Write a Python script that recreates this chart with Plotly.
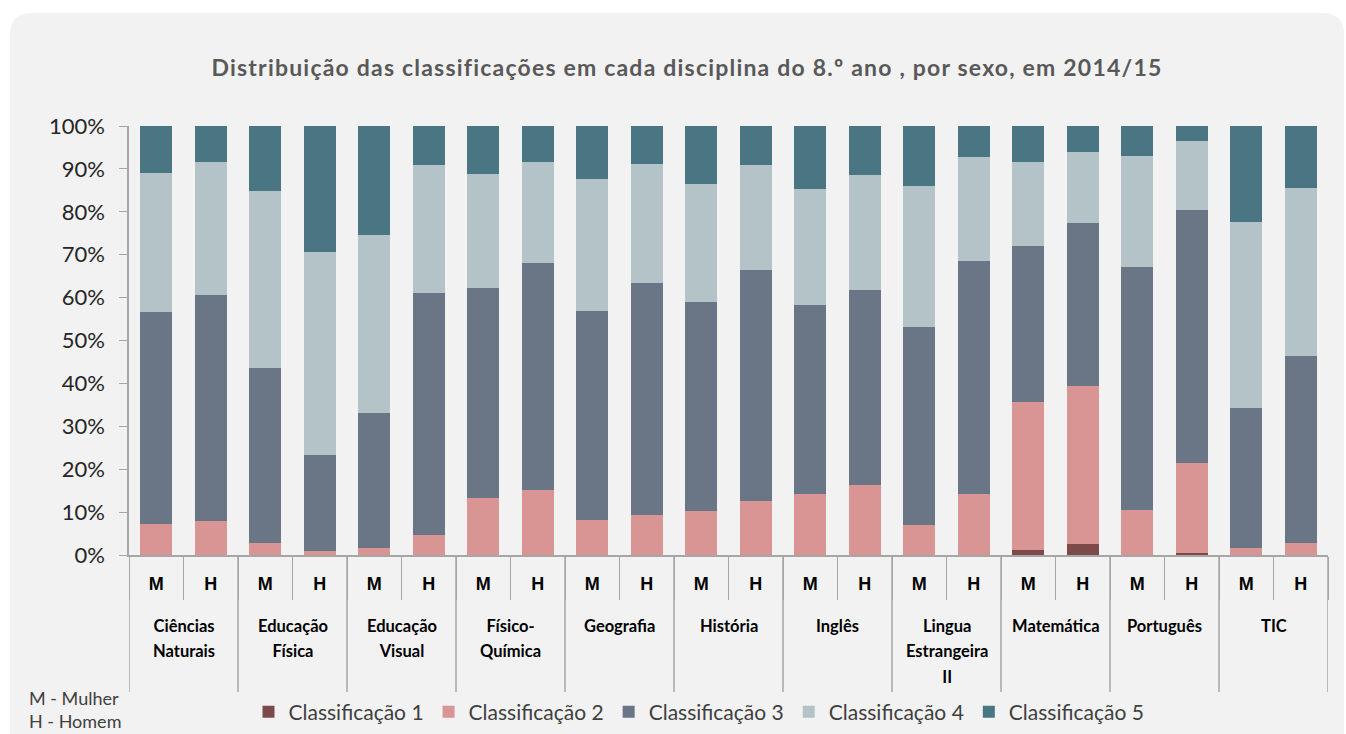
import plotly.graph_objects as go

disciplinas = ["Ciências<br>Naturais", "Educação<br>Física", "Educação<br>Visual", "Físico-<br>Química",
               "Geografia", "História", "Inglês", "Lingua<br>Estrangeira<br>II", "Matemática",
               "Português", "TIC"]
sexos = ["M", "H"]

# percentages per bar, order: (disciplina, M), (disciplina, H)
class1 = [0, 0, 0, 0, 0, 0, 0, 0, 0, 0, 0, 0, 0, 0, 0, 0, 1.2, 2.5, 0, 0.5, 0, 0]
class2 = [7.2, 7.9, 2.8, 1.0, 1.6, 4.7, 13.3, 15.1, 8.2, 9.3, 10.3, 12.7, 14.3, 16.3, 7.0, 14.3, 34.5, 36.9, 10.6, 20.9, 1.6, 2.8]
class3 = [49.5, 52.7, 40.8, 22.2, 31.5, 56.4, 49.0, 52.9, 48.7, 54.2, 48.7, 53.8, 43.9, 45.5, 46.1, 54.3, 36.3, 38.0, 56.6, 59.0, 32.7, 43.7]
class4 = [32.4, 30.9, 41.3, 47.5, 41.4, 29.8, 26.5, 23.5, 30.7, 27.6, 27.4, 24.4, 27.0, 26.7, 33.0, 24.1, 19.5, 16.5, 25.8, 16.1, 43.4, 39.0]
class5 = [10.9, 8.5, 15.1, 29.3, 25.5, 9.1, 11.2, 8.5, 12.4, 8.9, 13.6, 9.1, 14.8, 11.5, 13.9, 7.3, 8.5, 6.1, 7.0, 3.5, 22.3, 14.5]

series_names = ["Classificação 1", "Classificação 2", "Classificação 3", "Classificação 4", "Classificação 5"]
series_values = [class1, class2, class3, class4, class5]
colors = ["#7d4a4b", "#d99594", "#6a7586", "#b3c3c8", "#4a7582"]

# unique category keys, one per bar
keys = [f"{d}|{s}" for d in disciplinas for s in sexos]
key_labels = [s for d in disciplinas for s in sexos]

fig = go.Figure()
for name, vals, col in zip(series_names, series_values, colors):
    fig.add_trace(go.Bar(
        x=keys,
        y=[v / 100 for v in vals],
        name=name,
        marker=dict(color=col, line=dict(width=0)),
    ))

# plot area in pixels
L, R, T, B = 129, 1328, 126, 555
W, H = 1346, 734
pw, ph = R - L, B - T

def px(x):
    return (x - L) / pw

def py(y):
    return (B - y) / ph

# rounded background panel
x0, x1, y0, y1 = 10, 1344, 13, 760
r = 22
rx, ry = r / pw, r / ph
path = (f"M {px(x0)+rx},{py(y0)} L {px(x1)-rx},{py(y0)} Q {px(x1)},{py(y0)} {px(x1)},{py(y0)-ry} "
        f"L {px(x1)},{py(y1)} L {px(x0)},{py(y1)} L {px(x0)},{py(y0)-ry} "
        f"Q {px(x0)},{py(y0)} {px(x0)+rx},{py(y0)} Z")

axis_grey = "#a6a6a6"
shapes = [dict(type="path", path=path, xref="paper", yref="paper",
               fillcolor="#f2f2f2", line=dict(width=0), layer="below")]
n_grp = len(disciplinas)
n_sex = len(sexos)
for k in range(n_grp + 1):
    xb = k * n_sex - 0.5
    shapes.append(dict(type="line", xref="x", yref="paper", x0=xb, x1=xb, y0=0, y1=py(692),
                       line=dict(color=axis_grey, width=1.5), layer="above"))

annotations = []
for k, d in enumerate(disciplinas):
    annotations.append(dict(
        text=f"<span style='font-size:16.5px'><b>{d}</b></span>", xref="x", yref="paper",
        x=k * n_sex + (n_sex - 1) / 2, y=py(614), xanchor="center", yanchor="top",
        showarrow=False, align="center",
        font=dict(family="Lato", size=19.5, color="#000000")))
annotations.append(dict(text="M - Mulher<br>H - Homem", xref="paper", yref="paper",
                        x=px(27), xanchor="left", y=py(709), yanchor="middle", showarrow=False,
                        align="left", font=dict(family="Lato", size=18, color="#404040")))

title_text = ("<span style='letter-spacing:1.2px'><b>Distribuição das classificações em cada disciplina "
              "do 8.º ano , por sexo, em 2014/15</b></span>")

fig.update_layout(
    width=W, height=H,
    margin=dict(l=L, r=W - R, t=T, b=H - B, pad=0, autoexpand=False),
    barmode="stack",
    bargap=0.41,
    paper_bgcolor="white",
    plot_bgcolor="rgba(0,0,0,0)",
    shapes=shapes,
    annotations=annotations,
    title=dict(text=title_text,
               x=687 / W, xanchor="center", y=1 - 68 / H, yanchor="middle", yref="container",
               font=dict(family="Lato", size=23, color="#595959")),
    legend=dict(orientation="h", x=px(699), xanchor="center", y=py(712), yanchor="middle",
                font=dict(family="Lato", size=21, color="#404040"),
                bgcolor="rgba(0,0,0,0)", traceorder="normal", itemwidth=30),
    yaxis=dict(range=[0, 1], dtick=0.1, tickformat=".0%", showgrid=False, zeroline=False,
               showline=True, linecolor=axis_grey, linewidth=1.5, ticks="outside", ticklen=8,
               tickcolor=axis_grey, ticklabelstandoff=10,
               tickfont=dict(family="Lato", size=22, color="#262626")),
    xaxis=dict(type="category", range=[-0.5, len(keys) - 0.5], showline=True, linecolor=axis_grey,
               linewidth=1.5, ticks="outside", tickson="boundaries", ticklen=43, tickcolor=axis_grey,
               tickmode="array", tickvals=keys, ticktext=key_labels, tickangle=0,
               ticklabelstandoff=12,
               tickfont=dict(family="Liberation Sans", size=18, color="#000000", weight="bold")),
)

fig.write_html("out.html", config={"displayModeBar": False},
               post_script="document.body.style.margin='0';document.body.style.overflow='hidden';")
